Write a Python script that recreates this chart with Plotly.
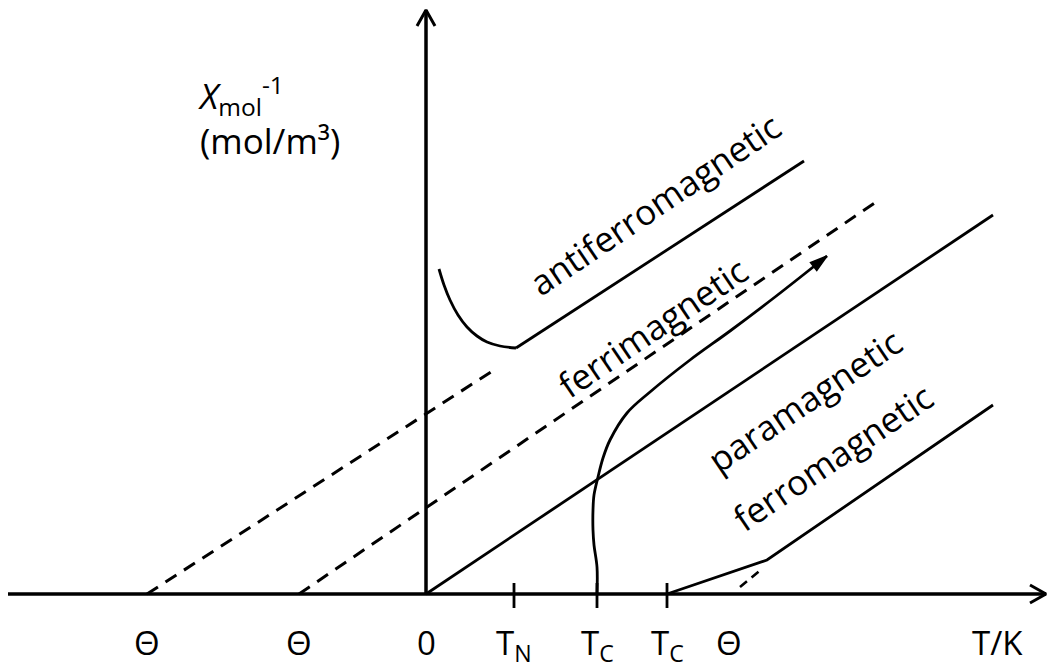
import math
import plotly.graph_objects as go

# Temperature axis (T) and inverse molar susceptibility (1/chi), arbitrary units
theta_afm = -27.9      # Weiss temperature, antiferromagnet
theta_ferri = -12.7    # Weiss temperature, ferrimagnet
theta_fm = 30.3        # Weiss temperature, ferromagnet
t_neel = 8.8
t_curie_ferri = 17.1
t_curie_fm = 24.1

# Paramagnet: Curie law through the origin
para_t = [0.0, 56.7]
para_chi = [0.0, 37.9]

# Antiferromagnet: low-T branch and Curie-Weiss branch above T_N
afm_t = [1.3, 1.8, 2.4, 3.2, 4.1, 5.1, 6.1, 7.4, 9.0, 37.8]
afm_chi = [32.5, 30.9, 29.4, 27.9, 26.7, 25.8, 25.2, 24.8, 24.6, 43.3]
afm_extrap_t = [theta_afm, 7.1]
afm_extrap_chi = [0.0, 22.6]

# Ferrimagnet: hyperbolic curve above T_C and its asymptote
ferri_t = [17.1, 17.1, 16.8, 16.7, 16.7, 16.8, 17.2, 17.7, 18.4, 20.1, 22.4,
           26.4, 30.4, 34.9, 40.1]
ferri_chi = [0.0, 2.7, 4.9, 6.4, 8.4, 9.9, 11.7, 13.6, 15.4, 18.1, 20.2,
             23.4, 26.3, 29.7, 33.8]
ferri_asym_t = [theta_ferri, 45.3]
ferri_asym_chi = [0.0, 39.4]

# Ferromagnet: rises from T_C, then Curie-Weiss line
fm_t = [t_curie_fm, 34.1, 56.7]
fm_chi = [0.0, 3.4, 18.9]
fm_extrap_t = [31.4, 33.7]
fm_extrap_chi = [0.7, 2.6]

# Axis labels along T
tick_vals = [theta_afm, theta_ferri, 0.0, t_neel, t_curie_ferri, t_curie_fm, theta_fm, 57.1]
tick_text = ["Θ", "Θ", "0", "T<sub>N</sub>", "T<sub>C</sub>", "T<sub>C</sub>", "Θ", "T/K"]
tick_marks = [t_neel, t_curie_ferri, t_curie_fm]

# Curve names written along the lines: (text, T, 1/chi)
curve_labels = ["antiferromagnetic", "ferrimagnetic", "paramagnetic", "ferromagnetic"]
curve_label_t = [22.8, 22.6, 37.8, 40.6]
curve_label_chi = [39.0, 26.7, 19.4, 13.7]

X_MIN, X_MAX = -42.6, 62.3
Y_MIN, Y_MAX = -6.9, 59.4
FONT = "Open Sans"
BLACK = "#000000"

fig = go.Figure()


def add_line(x, y, width=2.8, dash="solid", shape="linear"):
    fig.add_trace(go.Scatter(
        x=x, y=y, mode="lines", hoverinfo="skip", showlegend=False,
        line=dict(color=BLACK, width=width, dash=dash, shape=shape, smoothing=1.0),
    ))


# Coordinate axes with open arrowheads
x_end, y_end = 62.0, 58.4
add_line([-41.8, x_end], [0, 0], width=3.5)
add_line([x_end - 1.6, x_end, x_end - 1.6], [0.9, 0, -0.9], width=3.0)
add_line([0, 0], [0, y_end], width=3.5)
add_line([-0.9, 0, 0.9], [y_end - 1.6, y_end, y_end - 1.6], width=3.0)

for t in tick_marks:
    add_line([t, t], [-1.4, 1.1], width=2.8)

# Dashed extrapolations
dash = "13px,9px"
add_line(afm_extrap_t, afm_extrap_chi, width=3.0, dash=dash)
add_line(ferri_asym_t, ferri_asym_chi, width=3.0, dash=dash)
add_line(fm_extrap_t, fm_extrap_chi, width=2.6, dash="9px,6px")

# Solid curves
add_line(para_t, para_chi)
add_line(afm_t[:-1], afm_chi[:-1], shape="spline")
add_line(afm_t[-2:], afm_chi[-2:])
add_line(ferri_t, ferri_chi, shape="spline")
add_line(fm_t, fm_chi)

# Filled arrowhead at the end of the ferrimagnetic curve (equal x/y scales)
tip_x, tip_y = ferri_t[-1], ferri_chi[-1]
dx, dy = tip_x - ferri_t[-2], tip_y - ferri_chi[-2]
norm = math.hypot(dx, dy)
ux, uy = dx / norm, dy / norm
head_len, head_half = 1.7, 0.5
bx, by = tip_x - head_len * ux, tip_y - head_len * uy
fig.add_trace(go.Scatter(
    x=[tip_x, bx - head_half * uy, bx + head_half * uy, tip_x],
    y=[tip_y, by + head_half * ux, by - head_half * ux, tip_y],
    mode="lines", fill="toself", fillcolor=BLACK, hoverinfo="skip", showlegend=False,
    line=dict(color=BLACK, width=1.5),
))

# Labels along T
for val, txt in zip(tick_vals, tick_text):
    fig.add_annotation(
        x=val, y=-2.6, text=txt, showarrow=False, xanchor="center", yanchor="top",
        borderpad=0, borderwidth=0,
        font=dict(family=FONT, size=33, color=BLACK),
    )

# Curve names
for txt, t, c in zip(curve_labels, curve_label_t, curve_label_chi):
    fig.add_annotation(
        x=t, y=c, text=txt, showarrow=False, textangle=-34,
        xanchor="center", yanchor="middle",
        font=dict(family=FONT, size=35, color=BLACK),
    )

# Vertical axis title
fig.add_annotation(
    x=-22.8, y=47.8, text="<i>X</i><sub>mol</sub><sup>-1</sup><br>(mol/m³)",
    showarrow=False, align="left", xanchor="left", yanchor="middle",
    borderpad=0, borderwidth=0,
    font=dict(family=FONT, size=35, color=BLACK),
)

fig.update_xaxes(range=[X_MIN, X_MAX], visible=False, fixedrange=True)
fig.update_yaxes(range=[Y_MIN, Y_MAX], visible=False, fixedrange=True)
fig.update_layout(
    width=1049, height=663, margin=dict(l=0, r=0, t=0, b=0),
    paper_bgcolor="white", plot_bgcolor="white",
)

fig.write_html("out.html")
